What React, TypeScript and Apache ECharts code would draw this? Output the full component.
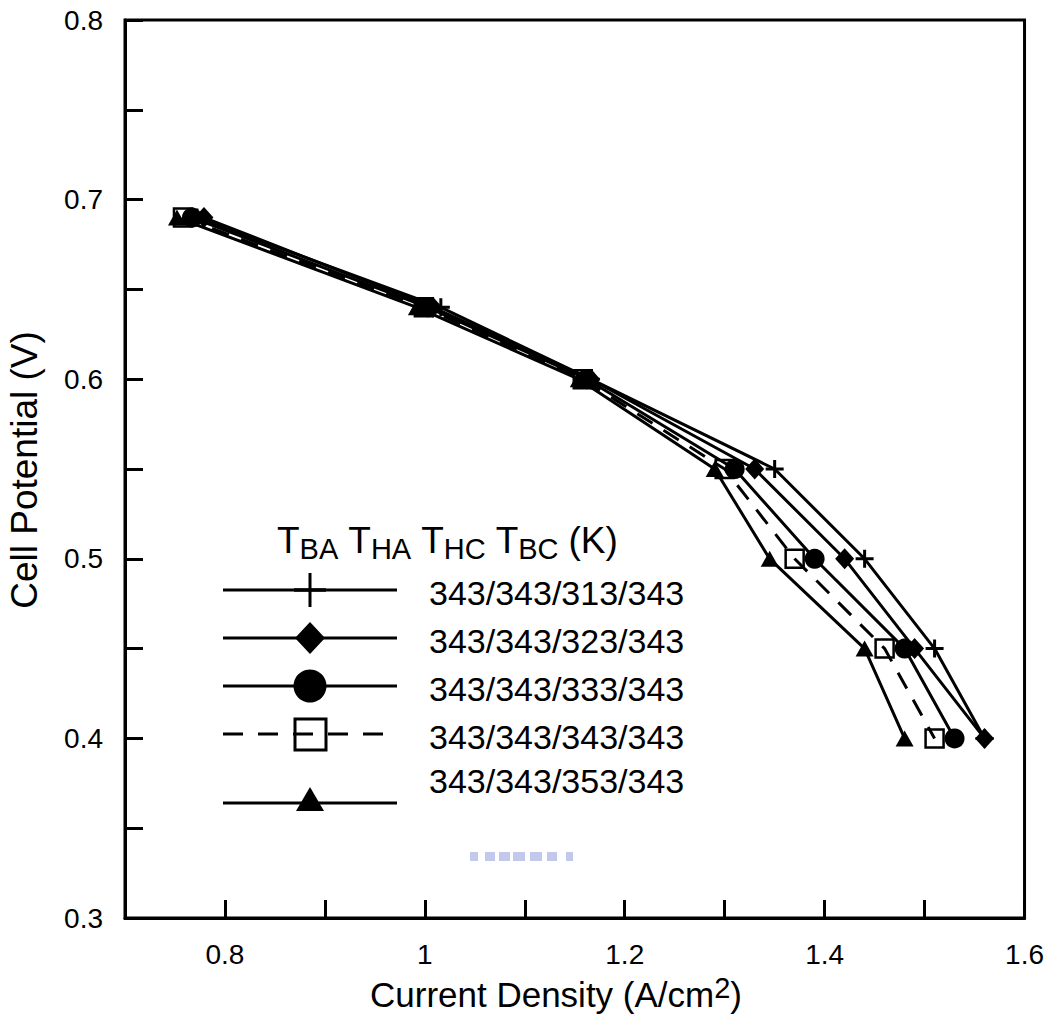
import React, { useEffect, useRef } from 'react';
import * as echarts from 'echarts';

// Cell potential (V) at each measured point
const cellPotential = [0.69, 0.64, 0.6, 0.55, 0.5, 0.45, 0.4];
// Current density (A/cm2) for each temperature set
const jT313 = [0.772, 1.016, 1.166, 1.35, 1.44, 1.51, 1.56];
const jT323 = [0.779, 1.008, 1.166, 1.33, 1.42, 1.49, 1.56];
const jT333 = [0.767, 1.003, 1.162, 1.31, 1.39, 1.48, 1.53];
const jT343 = [0.758, 0.999, 1.158, 1.30, 1.37, 1.46, 1.51];
const jT353 = [0.752, 0.992, 1.154, 1.29, 1.345, 1.44, 1.48];

const legendLabels = ['343/343/313/343', '343/343/323/343', '343/343/333/343', '343/343/343/343', '343/343/353/343'];

const FONT = '"Liberation Sans", Arial, sans-serif';

export default function App() {
  const ref = useRef<HTMLDivElement>(null);
  useEffect(() => {
    document.body.style.margin = '0';
    const chart = echarts.init(ref.current!, null, { renderer: 'svg' });
    const pts = (xs: number[]) => xs.map((x, i) => [x, cellPotential[i]]);
    const base = (name: string) => ({
      name,
      type: 'line' as const,
      showSymbol: true,
      showAllSymbol: true,
      emphasis: { disabled: true },
      silent: true,
    });
    const solid = { color: '#000', width: 3, type: 'solid' as const };

    const legendY = [590, 638, 686, 734, 803];
    const textY = [593, 641, 689, 737, 781];
    const graphic: any[] = [];
    // legend title
    graphic.push({
      type: 'text',
      x: 277,
      y: 517,
      style: {
        text: '{m|T}{s|BA} {m|T}{s|HA} {m|T}{s|HC} {m|T}{s|BC} {m|(K)}',
        font: `36px ${FONT}`,
        fill: '#000',
        verticalAlign: 'top',
        rich: {
          m: { fontSize: 37, lineHeight: 46, fontFamily: FONT, fill: '#000' },
          s: { fontSize: 29, lineHeight: 29, fontFamily: FONT, verticalAlign: 'bottom', fill: '#000' },
        },
      },
    });
    legendY.forEach((y, i) => {
      graphic.push({
        type: 'line',
        shape: { x1: 223, y1: y, x2: i === 3 ? 388 : 397, y2: y },
        style: { stroke: '#000', lineWidth: 3, lineDash: i === 3 ? [20, 15] : null },
      });
      graphic.push({
        type: 'text',
        x: 429,
        y: textY[i],
        style: { text: legendLabels[i], font: `34px ${FONT}`, fill: '#000', verticalAlign: 'middle' },
      });
    });
    // legend markers
    graphic.push({ type: 'line', shape: { x1: 310, y1: 573, x2: 310, y2: 607 }, style: { stroke: '#000', lineWidth: 3 } });
    graphic.push({ type: 'line', shape: { x1: 294, y1: 590, x2: 326, y2: 590 }, style: { stroke: '#000', lineWidth: 3.5 } });
    graphic.push({ type: 'polygon', shape: { points: [[310, 622], [325, 638], [310, 654], [295, 638]] }, style: { fill: '#000' } });
    graphic.push({ type: 'circle', shape: { cx: 310, cy: 686, r: 16.5 }, style: { fill: '#000' } });
    graphic.push({ type: 'rect', shape: { x: 295, y: 719, width: 31, height: 31 }, style: { fill: 'none', stroke: '#000', lineWidth: 3 } });
    graphic.push({ type: 'polygon', shape: { points: [[310, 787], [324, 811], [296, 811]] }, style: { fill: '#000' } });
    // x axis title
    graphic.push({
      type: 'text',
      x: 556,
      y: 973,
      style: {
        text: '{m|Current Density (A/cm}{p|2}{m|)}',
        align: 'center',
        verticalAlign: 'top',
        font: `35px ${FONT}`,
        fill: '#000',
        rich: {
          m: { fontSize: 35, lineHeight: 43, fontFamily: FONT, fill: '#000' },
          p: { fontSize: 29, lineHeight: 29, fontFamily: FONT, verticalAlign: 'top', fill: '#000' },
        },
      },
    });
    // y axis title
    graphic.push({
      type: 'text',
      x: 24,
      y: 470,
      rotation: Math.PI / 2,
      style: { text: 'Cell Potential (V)', font: `37px ${FONT}`, fill: '#000', align: 'center', verticalAlign: 'middle' },
    });
    // faint scan artifact
    [[470, 8], [485, 10], [499, 11], [513, 12], [530, 12], [547, 10], [566, 7]].forEach(([x, w]) => {
      graphic.push({ type: 'rect', shape: { x, y: 852, width: w, height: 9 }, style: { fill: 'rgba(120,135,215,0.45)' } });
    });

    chart.setOption({
      animation: false,
      backgroundColor: '#fff',
      grid: { left: 125, right: 22, top: 20, bottom: 105, show: true, borderColor: '#000', borderWidth: 3 },
      xAxis: {
        type: 'value',
        min: 0.7,
        max: 1.6,
        interval: 0.1,
        axisLine: { show: true, lineStyle: { color: '#000', width: 3 } },
        axisTick: { show: true, inside: true, length: 18, lineStyle: { color: '#000', width: 3 } },
        splitLine: { show: false },
        axisLabel: {
          margin: 22,
          color: '#000',
          fontSize: 28,
          fontFamily: FONT,
          showMinLabel: true,
          showMaxLabel: true,
          formatter: (v: number) => {
            const k = Math.round(v * 10);
            return k % 2 === 0 ? String(k / 10) : '';
          },
        },
      },
      yAxis: {
        type: 'value',
        min: 0.3,
        max: 0.8,
        interval: 0.05,
        axisLine: { show: true, lineStyle: { color: '#000', width: 3 } },
        axisTick: { show: true, inside: true, length: 18, lineStyle: { color: '#000', width: 3 } },
        splitLine: { show: false },
        axisLabel: {
          margin: 22,
          color: '#000',
          fontSize: 28,
          fontFamily: FONT,
          showMinLabel: true,
          showMaxLabel: true,
          formatter: (v: number) => {
            const k = Math.round(v * 100);
            return k % 10 === 0 ? (k / 100).toFixed(1) : '';
          },
        },
      },
      series: [
        {
          ...base(legendLabels[0]),
          data: pts(jT313),
          symbol: 'path://M9,0 L9,18 M0,9 L18,9',
          symbolSize: 18,
          lineStyle: solid,
          itemStyle: { color: '#000', borderColor: '#000', borderWidth: 3 },
        },
        {
          ...base(legendLabels[3]),
          data: pts(jT343),
          symbol: 'rect',
          symbolSize: 18,
          lineStyle: { color: '#000', width: 3, type: [18, 13] },
          itemStyle: { color: 'rgba(0,0,0,0)', borderColor: '#000', borderWidth: 2.5 },
        },
        {
          ...base(legendLabels[4]),
          data: pts(jT353),
          symbol: 'triangle',
          symbolSize: [18, 16],
          lineStyle: solid,
          itemStyle: { color: '#000', borderWidth: 0 },
        },
        {
          ...base(legendLabels[2]),
          data: pts(jT333),
          symbol: 'circle',
          symbolSize: 20,
          lineStyle: solid,
          itemStyle: { color: '#000', borderWidth: 0 },
        },
        {
          ...base(legendLabels[1]),
          data: pts(jT323),
          symbol: 'diamond',
          symbolSize: [19, 21],
          lineStyle: solid,
          itemStyle: { color: '#000', borderWidth: 0 },
        },
      ],
      graphic,
    });
    return () => chart.dispose();
  }, []);
  return <div ref={ref} style={{ width: 1047, height: 1023 }} />;
}
